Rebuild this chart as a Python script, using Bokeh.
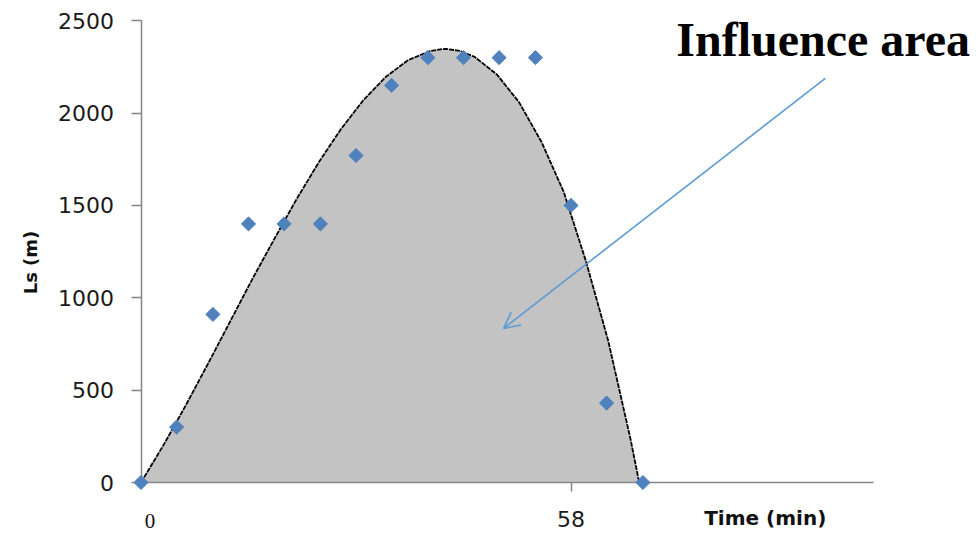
import numpy as np
from bokeh.plotting import figure
from bokeh.models import Range1d, FixedTicker, Label, Arrow, OpenHead
from bokeh.embed import file_html
from bokeh.resources import INLINE

# Observed data (Time in min, Ls in m)
time_min = [0, 4.8, 9.7, 14.5, 19.3, 24.2, 29.0, 33.8, 38.7, 43.5, 48.3, 53.2, 58.0, 62.8, 67.7]
ls_m = [0, 300, 910, 1400, 1400, 1400, 1770, 2150, 2300, 2300, 2300, 2300, 1500, 430, 0]

# Fitted (trend) curve
curve_x = [0, 3, 6, 9, 12, 15, 18, 21, 24, 27, 30, 33, 36, 39, 41, 43, 45,
           48, 51, 54, 57, 60, 63, 66, 67.2]
curve_y = [0, 200, 415, 640, 870, 1100, 1320, 1535, 1735, 1915, 2070, 2195, 2286, 2336, 2348,
           2337, 2304, 2209, 2058, 1845, 1575, 1200, 770, 240, 0]

y_ticks = [0, 500, 1000, 1500, 2000, 2500]
x_ticks = [58]

W, H = 976, 534
x0_px, px_per_min = 140.5, 7.414
y0_px, px_per_m = 482.0, 461.8 / 2500

p = figure(width=W, height=H, output_backend="svg", toolbar_location=None,
           x_range=Range1d(-x0_px / px_per_min, (W - x0_px) / px_per_min),
           y_range=Range1d(-(H - y0_px) / px_per_m, y0_px / px_per_m),
           min_border=0)
p.outline_line_color = None
p.xgrid.visible = False
p.ygrid.visible = False
p.background_fill_color = "white"
p.border_fill_color = "white"

axis_col = "#868686"
ya = p.yaxis[0]
ya.fixed_location = 0
ya.bounds = (0, 2500)
ya.ticker = FixedTicker(ticks=y_ticks)
ya.axis_line_color = axis_col
ya.axis_line_width = 1.5
ya.major_tick_line_color = axis_col
ya.major_tick_line_width = 1.5
ya.major_tick_out = 10
ya.major_tick_in = 0
ya.minor_tick_line_color = None
ya.major_label_text_font = "DejaVu Sans"
ya.major_label_text_font_size = "22px"
ya.major_label_text_color = "#1a1a1a"
ya.major_label_standoff = 17

xa = p.xaxis[0]
xa.fixed_location = 0
xa.bounds = (0, (872.7 - x0_px) / px_per_min)
xa.ticker = FixedTicker(ticks=x_ticks)
xa.axis_line_color = axis_col
xa.axis_line_width = 1.5
xa.major_tick_line_color = axis_col
xa.major_tick_line_width = 1.5
xa.major_tick_out = 9
xa.major_tick_in = 0
xa.minor_tick_line_color = None
xa.major_label_text_font = "DejaVu Sans"
xa.major_label_text_font_size = "22px"
xa.major_label_text_color = "#1a1a1a"
xa.major_label_standoff = 19

p.varea(x=curve_x, y1=0, y2=curve_y, fill_color="#c3c3c3")
p.line(curve_x, curve_y, line_color="black", line_width=1.8, line_dash="5 1")
r = p.scatter(time_min, ls_m, marker="square", angle=np.pi / 4, size=10,
              fill_color="#4F81BD", line_color="#4F81BD")
r.level = "annotation"

p.add_layout(Label(x=-14.9, y=1191, text="Ls (m)", angle=np.pi / 2, text_font="DejaVu Sans",
                   text_font_style="bold", text_font_size="18px", text_color="#111111",
                   text_align="center", text_baseline="middle"))
p.add_layout(Label(x=1.2, y=-211, text="0", text_font="Liberation Serif", text_font_size="21px",
                   text_color="#111111", text_align="center", text_baseline="middle"))
p.add_layout(Label(x=84.2, y=-190, text="Time (min)", text_font="DejaVu Sans",
                   text_font_style="bold", text_font_size="20px", text_color="#111111",
                   text_align="center", text_baseline="middle"))
p.add_layout(Label(x=72.2, y=2400, text="Influence area", text_font="Liberation Serif",
                   text_font_style="bold", text_font_size="48px", text_color="black",
                   text_align="left", text_baseline="alphabetic"))
p.add_layout(Arrow(x_start=92.3, y_start=2188, x_end=48.9, y_end=834,
                   line_color="#5B9BD5", line_width=1.6,
                   end=OpenHead(size=16, line_color="#5B9BD5", line_width=1.6)))

open("out.html", "w").write(file_html(p, INLINE))
